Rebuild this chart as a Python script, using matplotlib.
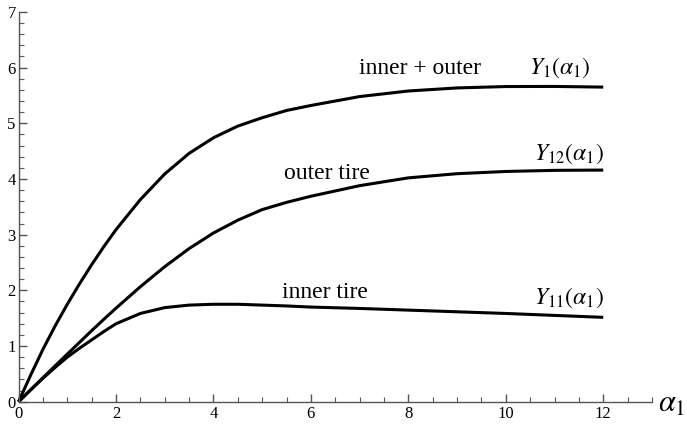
import matplotlib
matplotlib.use("Agg")
import matplotlib.pyplot as plt
from matplotlib.ticker import MultipleLocator

plt.rcParams['font.family'] = ['Liberation Serif', 'DejaVu Serif']
plt.rcParams['mathtext.fontset'] = 'stix'

alpha = [0, 0.25, 0.5, 0.75, 1, 1.25, 1.5, 1.75, 2, 2.5, 3, 3.5, 4, 4.5, 5, 5.5, 6, 7, 8, 9, 10, 11, 12]
y_total = [0, 0.48, 0.94, 1.36, 1.75, 2.115, 2.46, 2.785, 3.09, 3.63, 4.09, 4.46, 4.74, 4.95, 5.10, 5.23, 5.32, 5.48, 5.58, 5.635, 5.66, 5.662, 5.65]
y_outer = [0, 0.215, 0.43, 0.643, 0.855, 1.065, 1.275, 1.48, 1.68, 2.065, 2.425, 2.75, 3.03, 3.26, 3.45, 3.58, 3.69, 3.88, 4.02, 4.095, 4.135, 4.155, 4.16]
y_inner = [0, 0.215, 0.42, 0.615, 0.80, 0.96, 1.11, 1.26, 1.40, 1.585, 1.69, 1.735, 1.75, 1.75, 1.735, 1.72, 1.70, 1.675, 1.645, 1.615, 1.585, 1.55, 1.515]

xticks = [0, 2, 4, 6, 8, 10, 12]
yticks = [0, 1, 2, 3, 4, 5, 6, 7]

fig = plt.figure(figsize=(6.87, 4.26), dpi=100)
ax = fig.add_axes([0.027, 0.057, 0.922, 0.915])

for ys in (y_total, y_outer, y_inner):
    ax.plot(alpha, ys, color='black', lw=2.2, solid_capstyle='butt',
            solid_joinstyle='round', clip_on=False)

ax.set_xlim(0, 13)
ax.set_ylim(0, 7)

axc = '#555555'
for s in ('top', 'right'):
    ax.spines[s].set_visible(False)
for s in ('left', 'bottom'):
    ax.spines[s].set_color(axc)
    ax.spines[s].set_linewidth(1.0)

ax.set_xticks(xticks)
ax.set_yticks(yticks)
ax.xaxis.set_minor_locator(MultipleLocator(0.5))
ax.yaxis.set_minor_locator(MultipleLocator(0.2))
ax.tick_params(which='major', direction='in', length=6, width=1.0, color=axc,
               labelsize=12, pad=3)
ax.tick_params(which='minor', direction='in', length=3.5, width=0.8, color=axc)
ax.tick_params(axis='y', pad=2)

fs = 17
ax.text(8.24, 5.99, 'inner + outer', fontsize=fs, ha='center', va='center')
ax.text(11.1, 5.99, r'$Y_1(\alpha_1)$', fontsize=fs, ha='center', va='center')
ax.text(6.33, 4.10, 'outer tire', fontsize=fs, ha='center', va='center')
ax.text(11.3, 4.46, r'$Y_{12}(\alpha_1)$', fontsize=fs, ha='center', va='center')
ax.text(6.29, 1.97, 'inner tire', fontsize=fs, ha='center', va='center')
ax.text(11.3, 1.86, r'$Y_{11}(\alpha_1)$', fontsize=fs, ha='center', va='center')
ax.text(13.4, -0.05, r'$\alpha_1$', fontsize=22, ha='center', va='center', clip_on=False)

fig.savefig('out.png', dpi=100)
